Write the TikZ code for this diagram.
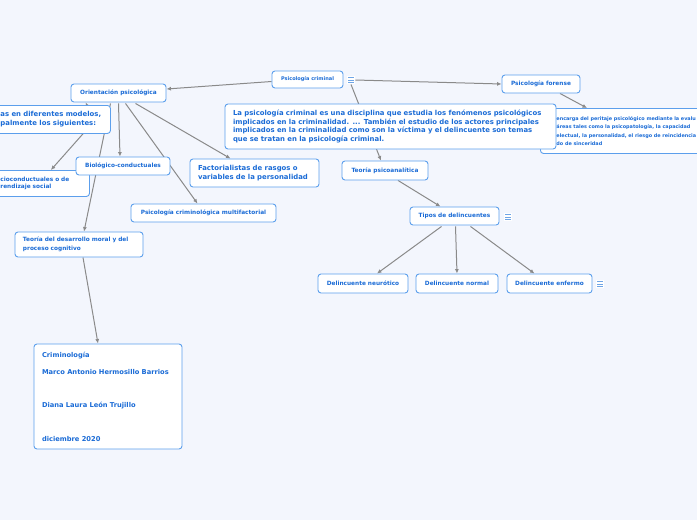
\documentclass[tikz,border=0pt]{standalone}
\usepackage{fontspec}
\setmainfont{DejaVu Sans}
\usepackage{xcolor}
\usepackage{tikz}
\usetikzlibrary{arrows.meta,calc,backgrounds}
\definecolor{fondo}{HTML}{F3F6FD}
\definecolor{borde}{HTML}{5C9FEC}
\definecolor{tinta}{HTML}{1A6BD6}
\definecolor{gris}{HTML}{8A8A8A}
\definecolor{icolor}{HTML}{6FA5E6}

\begin{document}
\begin{tikzpicture}[x=1pt,y=-1pt,
  nodo/.style={draw=borde,fill=white,rounded corners=3pt,line width=0.9pt,text=tinta,inner sep=0pt,align=center,font=\fontsize{5.8}{7}\selectfont\bfseries},
  texto/.style={nodo,inner xsep=8pt,align=left,font=\fontsize{6.9}{8.8}\selectfont\bfseries},
  icono/.style={fill=white,minimum size=8.5pt,inner sep=0pt,
    path picture={\foreach \d in {-2.2,0,2.2}
      \draw[icolor,line width=0.9pt] ($(path picture bounding box.center)+(-3,\d)$) -- ++(6,0);}},
  flecha/.style={-{Latex[length=4.5pt,width=4pt]},line width=1pt,draw=gris}]
\useasboundingbox (0,0) rectangle (697,520);
% ramas de la izquierda
\node[nodo,minimum width=71pt,minimum height=17pt,font=\fontsize{5}{6}\selectfont\bfseries] (pcrim) at (307.5,79.5) {Psicología criminal};
\node[icono] (icono1) at (351,80) {};
\node[nodo,minimum width=95pt,minimum height=18pt] (orient) at (118.5,93) {Orientación psicológica};
\node[texto,anchor=north west,minimum width=118pt,minimum height=28pt,text width=102pt] (modelos) at (-8,105) {as en diferentes modelos,\\palmente los siguientes:};
\node[nodo,anchor=north west,inner xsep=8pt,align=left,minimum width=97pt,minimum height=26pt,text width=81pt] (socio) at (-8,170) {cioconductuales o de\\rendizaje social};
\node[nodo,minimum width=94pt,minimum height=18pt] (biolog) at (123,166) {Biológico-conductuales};
\node[texto,minimum width=129pt,minimum height=28pt,text width=113pt] (factor) at (254.5,173) {Factorialistas de rasgos o\\variables de la personalidad};
\node[nodo,minimum width=145pt,minimum height=18pt] (multif) at (203.5,213) {Psicología criminológica multifactorial};
\node[nodo,inner xsep=8pt,align=left,minimum width=128pt,minimum height=25pt,text width=112pt,font=\fontsize{5.8}{9}\selectfont\bfseries] (moral) at (79,244.5) {Teoría del desarrollo moral y del\\proceso cognitivo};
\node[nodo,inner xsep=8pt,align=left,minimum width=148pt,minimum height=105pt,text width=132pt,font=\fontsize{6.7}{8.4}\selectfont\bfseries] (crimi) at (108,396.5) {Criminología\\[8.6pt]Marco Antonio Hermosillo Barrios\\[25pt]Diana Laura León Trujillo\\[25pt]diciembre 2020};
% ramas de la derecha
\node[nodo,minimum width=78pt,minimum height=18pt] (forense) at (541,84) {Psicología forense};
\node[nodo,anchor=north west,inner xsep=16pt,align=left,minimum width=170pt,minimum height=45pt,font=\fontsize{4.9}{8.3}\selectfont\bfseries] (peritaje) at (540,108) {encarga del peritaje psicológico mediante la evalu\\áreas tales como la psicopatología, la capacidad\\electual, la personalidad, el riesgo de reincidencia\\do de sinceridad};
\node[texto,minimum width=331pt,minimum height=45pt,text width=315pt] (definicion) at (390.5,126.5) {La psicología criminal es una disciplina que estudia los fenómenos psicológicos\\implicados en la criminalidad. ... También el estudio de los actores principales\\implicados en la criminalidad como son la víctima y el delincuente son temas\\que se tratan en la psicología criminal.};
\node[nodo,minimum width=86pt,minimum height=19pt] (psicoan) at (385,170.5) {Teoría psicoanalítica};
\node[nodo,minimum width=89pt,minimum height=18pt] (tipos) at (454.5,216) {Tipos de delincuentes};
\node[icono] (icono2) at (508,217) {};
\node[nodo,minimum width=90pt,minimum height=19pt] (neuro) at (363,283.5) {Delincuente neurótico};
\node[nodo,minimum width=82pt,minimum height=19pt] (normal) at (457,283.5) {Delincuente normal};
\node[nodo,minimum width=85pt,minimum height=19pt] (enfermo) at (549.5,283.5) {Delincuente enfermo};
\node[icono] (icono3) at (600,284) {};
\begin{scope}[on background layer]
\fill[fondo] (0,0) rectangle (697,520);
\draw[flecha] ($(pcrim.west)+(0,2)$) -- ($(orient.east)+(0,-4)$);
\draw[flecha] (icono1.east) -- (forense.west);
\draw[flecha] (icono1.south) -- ($(psicoan.north)+(-4,0)$);
\draw[flecha] ($(forense.south)+(19,0)$) -- ($(peritaje.north west)+(47,0)$);
\draw[flecha] ($(modelos.north east)+(-21,6)$) -- ($(orient.south west)+(15,0)$);
\draw[flecha] ($(orient.south)+(0,1)$) -- ($(biolog.north)+(-3,0)$);
\draw[flecha] ($(orient.south)+(-8,1)$) -- ($(moral.north)+(5,0)$);
\draw[flecha] ($(orient.south)+(7,1)$) -- ($(multif.north)+(-6,0)$);
\draw[flecha] ($(orient.south)+(17,1)$) -- ($(factor.north)+(-24,0)$);
\draw[flecha] ($(modelos.south east)+(-28,0)$) -- ($(socio.north east)+(-39,0)$);
\draw[flecha] ($(moral.south)+(4,0)$) -- ($(crimi.north)+(-10,0)$);
\draw[flecha] ($(psicoan.south)+(13,0)$) -- ($(tipos.north)+(-14,0)$);
\draw[flecha] ($(tipos.south)+(-13,1)$) -- ($(neuro.north)+(14,0)$);
\draw[flecha] ($(tipos.south)+(1,1)$) -- (normal.north);
\draw[flecha] ($(tipos.south)+(16,1)$) -- ($(enfermo.north)+(-15,0)$);
\end{scope}
\end{tikzpicture}
\end{document}
